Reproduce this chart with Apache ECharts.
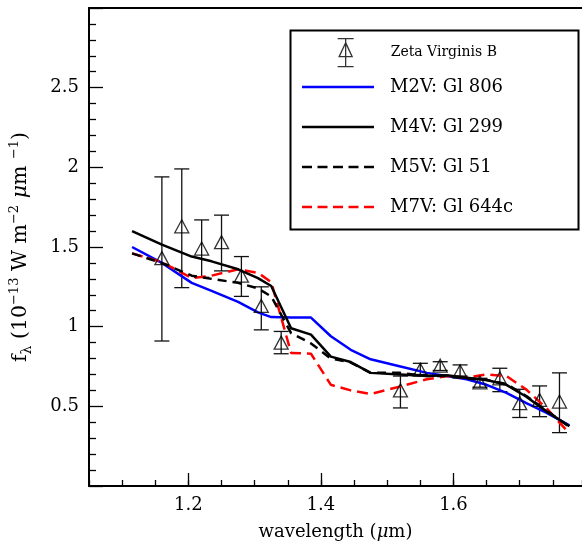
<!DOCTYPE html>
<html>
<head>
<meta charset="utf-8">
<script src="https://cdn.jsdelivr.net/npm/echarts@6/dist/echarts.min.js"></script>
<style>
  html, body { margin: 0; padding: 0; background: #fff; }
  #chart { width: 582px; height: 546px; }
</style>
</head>
<body>
<div id="chart"></div>
<script>
// Zeta Virginis B photometry (flux, error bar low / high)
var obsWave = [1.16, 1.19, 1.22, 1.25, 1.28, 1.31, 1.34, 1.52, 1.55, 1.58, 1.61, 1.64, 1.67, 1.70, 1.73, 1.76];
var obsFlux = [1.43, 1.63, 1.49, 1.53, 1.32, 1.13, 0.90, 0.60, 0.73, 0.755, 0.72, 0.65, 0.676, 0.52, 0.54, 0.53];
var obsLow  = [0.91, 1.245, 1.31, 1.35, 1.19, 0.98, 0.83, 0.49, 0.70, 0.725, 0.69, 0.62, 0.592, 0.43, 0.435, 0.335];
var obsHigh = [1.94, 1.99, 1.67, 1.70, 1.44, 1.25, 0.97, 0.69, 0.77, 0.78, 0.76, 0.676, 0.739, 0.607, 0.628, 0.71];

// comparison spectra
var modelWave = [1.115, 1.16, 1.205, 1.235, 1.275, 1.305, 1.325, 1.355, 1.385, 1.415, 1.445, 1.475, 1.52, 1.56, 1.59, 1.62, 1.65, 1.68, 1.71, 1.74, 1.775];
var m2v = [1.50, 1.40, 1.275, 1.225, 1.155, 1.09, 1.06, 1.057, 1.057, 0.94, 0.855, 0.795, 0.75, 0.71, 0.69, 0.67, 0.635, 0.585, 0.52, 0.46, 0.38];
var m4v = [1.60, 1.515, 1.44, 1.41, 1.36, 1.305, 1.255, 0.99, 0.95, 0.812, 0.778, 0.71, 0.70, 0.69, 0.695, 0.68, 0.665, 0.635, 0.56, 0.47, 0.375];
var m5v = [1.46, 1.40, 1.32, 1.30, 1.275, 1.24, 1.19, 0.96, 0.895, 0.80, 0.775, 0.71, 0.71, 0.69, 0.69, 0.675, 0.665, 0.64, 0.565, 0.475, 0.37];
var m7v = [1.46, 1.405, 1.305, 1.32, 1.36, 1.338, 1.28, 0.835, 0.83, 0.635, 0.60, 0.577, 0.625, 0.67, 0.69, 0.68, 0.70, 0.69, 0.605, 0.49, 0.33];

var xMajorTicks = [1.2, 1.4, 1.6];
var legendNames = ['Zeta Virginis B', 'M2V: Gl 806', 'M4V: Gl 299', 'M5V: Gl 51', 'M7V: Gl 644c'];

var font = 'DejaVu Serif';

function pairs(xs, ys) {
  return xs.map(function (x, i) { return [x, ys[i]]; });
}

var errData = obsWave.map(function (w, i) { return [w, obsLow[i], obsHigh[i]]; });

function renderErr(params, api) {
  var top = api.coord([api.value(0), api.value(2)]);
  var bot = api.coord([api.value(0), api.value(1)]);
  var hw = 7.5;
  var st = { stroke: '#111', lineWidth: 1.3 };
  return {
    type: 'group',
    children: [
      { type: 'line', shape: { x1: top[0], y1: top[1], x2: bot[0], y2: bot[1] }, style: st },
      { type: 'line', shape: { x1: top[0] - hw, y1: top[1], x2: top[0] + hw, y2: top[1] }, style: st },
      { type: 'line', shape: { x1: bot[0] - hw, y1: bot[1], x2: bot[0] + hw, y2: bot[1] }, style: st }
    ]
  };
}

// legend line icons drawn as thin filled bars (72 x 26 box)
function barIcon(dash, gap) {
  var p = 'path://M0 0 M72 26';
  var x = 0;
  while (x < 72) {
    var x2 = Math.min(72, x + dash);
    p += ' M' + x + ' 11.75 L' + x2 + ' 11.75 L' + x2 + ' 14.25 L' + x + ' 14.25 Z';
    x = x2 + gap;
  }
  return p;
}

var chart = echarts.init(document.getElementById('chart'));

var axisLineStyle = { color: '#000', width: 2 };
var tickStyle = { color: '#000', width: 1.3 };

var legendText = {
  color: '#000',
  rich: {
    s: { fontFamily: font, fontSize: 14, color: '#000', padding: [0, 0, 0, 11] },
    b: { fontFamily: font, fontSize: 18, color: '#000', padding: [0, 0, 0, 11] }
  }
};

var option = {
  animation: false,
  textStyle: { fontFamily: font, color: '#000' },
  grid: { left: 89, right: 0, top: 8, bottom: 60 },
  graphic: [{
    type: 'rect',
    left: 288, top: 28,
    shape: { width: 288, height: 199 },
    style: { fill: 'none', stroke: '#000', lineWidth: 2 },
    z: 10
  }],
  legend: [
    {
      orient: 'vertical', left: 302, top: 38, padding: 0,
      itemWidth: 72, itemHeight: 28,
      data: [{
        name: legendNames[0],
        icon: 'path://M0 0 M72 28 M35 0 L51 0 M43 0 L43 28 M35 28 L51 28 M43 4 L36.5 18 L49.5 18 Z',
        itemStyle: { color: 'rgba(0,0,0,0)', borderColor: '#000', borderWidth: 1.3 }
      }],
      formatter: '{s|{name}}',
      textStyle: legendText
    },
    {
      orient: 'vertical', left: 302, top: 74, padding: 0,
      itemWidth: 72, itemHeight: 26, itemGap: 14,
      data: [
        { name: legendNames[1], icon: barIcon(72, 0), itemStyle: { color: '#0000ff', borderWidth: 0 } },
        { name: legendNames[2], icon: barIcon(72, 0), itemStyle: { color: '#000', borderWidth: 0 } },
        { name: legendNames[3], icon: barIcon(10, 5.5), itemStyle: { color: '#000', borderWidth: 0 } },
        { name: legendNames[4], icon: barIcon(10, 5.5), itemStyle: { color: '#ff0000', borderWidth: 0 } }
      ],
      formatter: '{b|{name}}',
      textStyle: legendText
    }
  ],
  xAxis: [
    {
      type: 'value', min: 1.05, max: 1.794, position: 'bottom',
      axisLine: { lineStyle: axisLineStyle },
      axisTick: { inside: true, length: 13, customValues: xMajorTicks, lineStyle: tickStyle },
      axisLabel: {
        customValues: xMajorTicks, margin: 10, fontSize: 18, color: '#000', fontFamily: font,
        formatter: function (v) { return v.toFixed(1); }
      },
      splitLine: { show: false },
      name: 'wavelength ({mu|μ}m)',
      nameLocation: 'middle', nameGap: 37,
      nameTextStyle: {
        fontFamily: font, fontSize: 18, color: '#000',
        rich: { mu: { fontFamily: font, fontSize: 18, fontStyle: 'italic', color: '#000' } }
      }
    },
    {
      type: 'value', min: 1.05, max: 1.794, interval: 0.05, position: 'bottom',
      axisLine: { show: false },
      axisTick: { inside: true, length: 6, lineStyle: tickStyle },
      axisLabel: { show: false },
      splitLine: { show: false }
    },
    {
      type: 'value', min: 1.05, max: 1.794, position: 'top',
      axisLine: { show: true, lineStyle: axisLineStyle },
      axisTick: { show: false },
      axisLabel: { show: false },
      splitLine: { show: false }
    }
  ],
  yAxis: {
    type: 'value', min: 0, max: 3, interval: 0.5,
    axisLine: { show: true, lineStyle: axisLineStyle },
    axisTick: { inside: true, length: 14, lineStyle: tickStyle },
    minorTick: { show: true, splitNumber: 5, length: 7, lineStyle: tickStyle },
    axisLabel: { showMinLabel: false, showMaxLabel: false, margin: 10, fontSize: 18, color: '#000', fontFamily: font },
    splitLine: { show: false },
    minorSplitLine: { show: false },
    name: 'f{sub|λ} (10{sup|−13} W m{sup|−2} {mu|μ}m {sup|−1})',
    nameLocation: 'middle', nameGap: 55,
    nameTextStyle: {
      fontFamily: font, fontSize: 20.5, color: '#000', lineHeight: 26,
      rich: {
        sub: { fontFamily: font, fontSize: 14, color: '#000', lineHeight: 14, verticalAlign: 'bottom' },
        sup: { fontFamily: font, fontSize: 13, color: '#000', lineHeight: 13, verticalAlign: 'top' },
        mu: { fontFamily: font, fontSize: 20.5, color: '#000', fontStyle: 'italic' }
      }
    }
  },
  series: [
    {
      name: legendNames[0], type: 'scatter',
      data: pairs(obsWave, obsFlux),
      symbol: 'triangle', symbolSize: [14, 13],
      itemStyle: { color: 'rgba(0,0,0,0)', borderColor: '#000', borderWidth: 1.3 },
      z: 4
    },
    {
      name: legendNames[0], type: 'custom',
      data: errData, renderItem: renderErr,
      encode: { x: 0, y: [1, 2] },
      z: 3
    },
    {
      name: legendNames[1], type: 'line', data: pairs(modelWave, m2v),
      symbol: 'none', lineStyle: { color: '#0000ff', width: 2.5 }, itemStyle: { color: '#0000ff' }
    },
    {
      name: legendNames[4], type: 'line', data: pairs(modelWave, m7v),
      symbol: 'none', lineStyle: { color: '#ff0000', width: 2.5, type: [11, 6] }, itemStyle: { color: '#ff0000' }
    },
    {
      name: legendNames[3], type: 'line', data: pairs(modelWave, m5v),
      symbol: 'none', lineStyle: { color: '#000', width: 2.5, type: [9, 6] }, itemStyle: { color: '#000' }
    },
    {
      name: legendNames[2], type: 'line', data: pairs(modelWave, m4v),
      symbol: 'none', lineStyle: { color: '#000', width: 2.5 }, itemStyle: { color: '#000' }
    }
  ]
};

chart.setOption(option);
</script>
</body>
</html>
